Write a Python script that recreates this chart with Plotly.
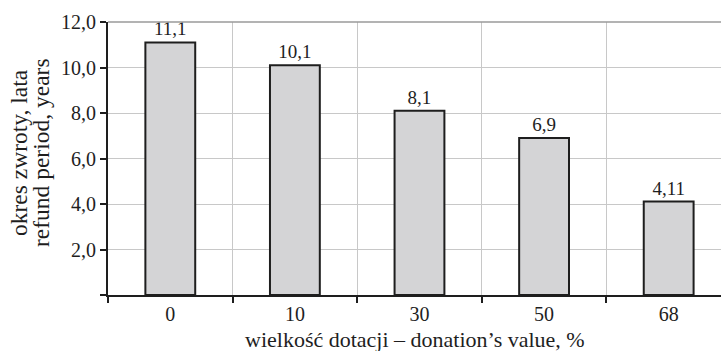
import plotly.graph_objects as go

categories = ["0", "10", "30", "50", "68"]
refund_years = [11.1, 10.1, 8.1, 6.9, 4.11]
y_tick_vals = [0, 2, 4, 6, 8, 10, 12]
y_tick_text = ["", "2,0", "4,0", "6,0", "8,0", "10,0", "12,0"]
x_title = "wielkość dotacji – donation’s value, %"
y_title_lines = ["okres zwroty, lata", "refund period, years"]

FONT = "Liberation Serif"
INK = "#1e1e1e"

fig = go.Figure()
fig.add_trace(go.Bar(
    x=categories,
    y=refund_years,
    width=0.4,
    marker=dict(color="#d4d4d6", line=dict(color=INK, width=2)),
    text=[f"{v:g}".replace(".", ",") for v in refund_years],
    textposition="outside",
    textfont=dict(family=FONT, size=19, color=INK),
    cliponaxis=False,
))

fig.update_layout(
    width=721, height=351,
    margin=dict(l=108, r=0, t=22, b=56, autoexpand=False),
    plot_bgcolor="white", paper_bgcolor="white",
    showlegend=False,
    separators=",.",
    font=dict(family=FONT, size=20, color=INK),
    xaxis=dict(
        type="category",
        range=[-0.5, 4.42],
        tickson="boundaries",
        ticks="outside", ticklen=6, tickcolor=INK, tickwidth=1.5,
        showgrid=True, gridcolor="#c8c8c8", gridwidth=1,
        showline=True, linecolor=INK, linewidth=2,
        tickfont=dict(family=FONT, size=20),
        automargin=False,
    ),
    yaxis=dict(
        range=[0, 12],
        tickvals=y_tick_vals, ticktext=y_tick_text,
        ticks="outside", ticklen=6, tickcolor=INK, tickwidth=1.5,
        showgrid=True, gridcolor="#c8c8c8", gridwidth=1,
        showline=True, linecolor=INK, linewidth=2,
        zeroline=False,
        tickfont=dict(family=FONT, size=20),
        automargin=False,
    ),
    shapes=[dict(type="line", xref="paper", yref="paper", x0=0, x1=1, y0=1, y1=1,
                 line=dict(color="#9a9a9a", width=1.5))],
    annotations=[
        dict(text=x_title, xref="paper", yref="paper", x=0.5, y=-0.162,
             xanchor="center", yanchor="middle", showarrow=False,
             font=dict(family=FONT, size=22, color=INK)),
        dict(text=y_title_lines[0], xref="paper", yref="paper", x=0, y=0.52,
             xanchor="center", yanchor="middle", xshift=-89, textangle=-90,
             showarrow=False, font=dict(family=FONT, size=23.5, color=INK)),
        dict(text=y_title_lines[1], xref="paper", yref="paper", x=0, y=0.52,
             xanchor="center", yanchor="middle", xshift=-67, textangle=-90,
             showarrow=False, font=dict(family=FONT, size=23.5, color=INK)),
    ],
)

fig.write_html("out.html", config={"displayModeBar": False},
               post_script="document.body.style.margin='0';document.body.style.overflow='hidden';")
